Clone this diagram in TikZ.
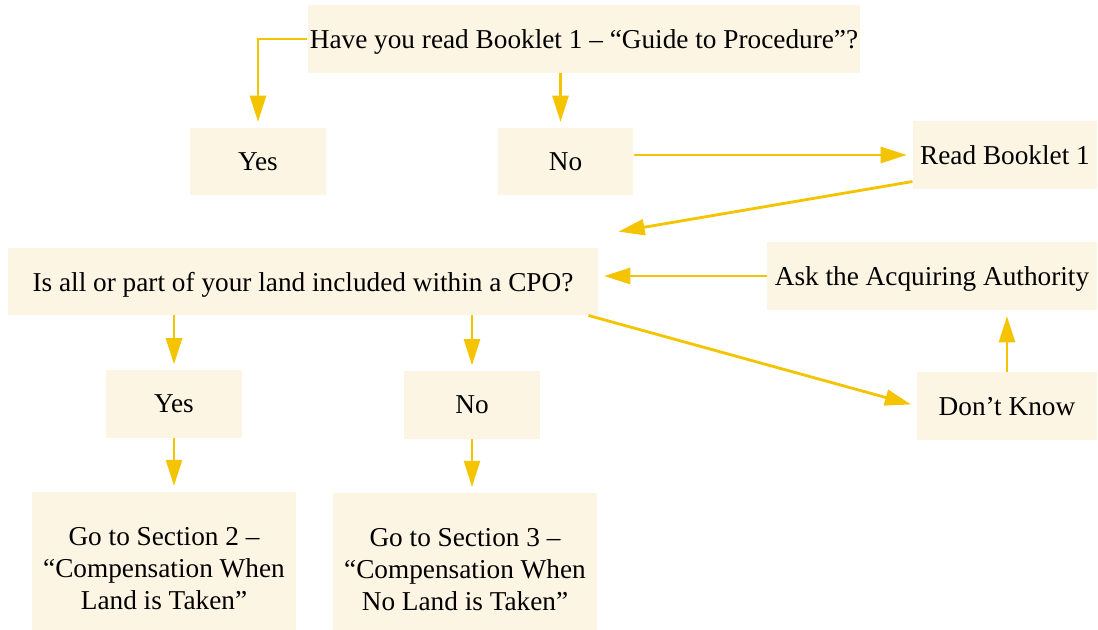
\documentclass[tikz,border=0pt]{standalone}
\usepackage{fontspec}
\setmainfont{Liberation Serif}
\usetikzlibrary{arrows.meta}
\definecolor{boxfill}{HTML}{FDF5E4}
\definecolor{arrowgold}{HTML}{F5C400}
\begin{document}
\begin{tikzpicture}[node distance={53.9pt},
  box/.style = {fill=boxfill, inner xsep=1pt, inner ysep=0pt, minimum height=29.5pt, text depth=0pt, align=center, font=\fontsize{12}{13.9}\selectfont},
  arr/.style = {draw=arrowgold, line width=1.25pt, -{Triangle[length=11.5pt,width=7pt]}, shorten >=2.5pt}]
\clip (0,0) rectangle (483.12pt,-276.76pt);

\node[box, minimum width=242.9pt] (q1) at (256.96pt,-17.16pt) {Have you read Booklet 1 – “Guide to Procedure”?};
\node[box, minimum width=59.8pt] (yes1) [below of=q1, xshift=-143.44pt] {Yes};
\node[box, minimum width=59.8pt] (no1) [below of=q1, xshift=-8.14pt] {No};
\node[box, minimum width=81pt] (read) [right of=no1, node distance=193.38pt, yshift=2.86pt] {Read Booklet 1};
\node[box, minimum width=259.6pt] (q2) [below of=yes1, node distance=52.8pt, xshift=19.8pt] {Is all or part of your land included within a CPO?};
\node[box, minimum width=145.2pt, minimum height=29.9pt] (ask) [right of=q2, node distance=276.76pt, yshift=2.42pt] {Ask the Acquiring Authority};
\node[box, minimum width=59.8pt] (yes2) [below of=q2, xshift=-56.76pt] {Yes};
\node[box, minimum width=59.8pt] (no2) [below of=q2, xshift=74.36pt, yshift=-0.44pt] {No};
\node[box, minimum width=79.2pt] (dk) [below of=ask, xshift=33pt, yshift=-3.3pt] {Don’t Know};
\node[box, minimum width=116.2pt, minimum height=67.3pt] (sec2) [below of=yes2, node distance=72.4pt, xshift=-4.4pt] {Go to Section 2 –\\“Compensation When\\Land is Taken”};
\node[box, minimum width=116.2pt, minimum height=67.3pt] (sec3) [below of=no2, node distance=72.4pt, xshift=-3.08pt] {Go to Section 3 –\\“Compensation When\\No Land is Taken”};

\draw[arr] (q1.west) -| (yes1.north);
\draw[arr] ([xshift=-2.2pt]q1.south -| no1) -- ([xshift=-2.2pt]no1.north);
\draw[arr] (no1.east |- read) -- (read.west);
\draw[arr, shorten >=0pt] (read.196) -- ([xshift=8.8pt,yshift=7pt]q2.north east);
\draw[arr] (ask.west) -- (ask.west -| q2.east);
\draw[arr] ([xshift=-4.4pt]q2.south east) -- (dk.west);
\draw[arr] (dk.north) -- (dk.north |- ask.south);
\draw[arr] (q2.south -| yes2) -- (yes2.north);
\draw[arr] (q2.south -| no2) -- (no2.north);
\draw[arr] (yes2.south) -- (yes2.south |- sec2.north);
\draw[arr] (no2.south) -- (no2.south |- sec3.north);

\end{tikzpicture}
\end{document}
